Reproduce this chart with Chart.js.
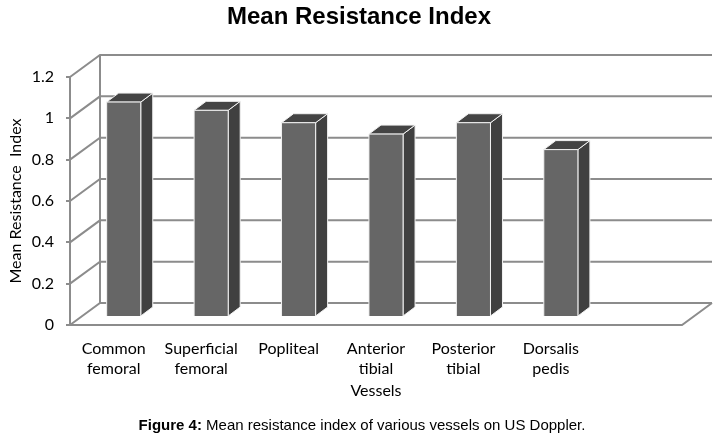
<!DOCTYPE html>
<html><head><meta charset="utf-8">
<script src="https://cdn.jsdelivr.net/npm/chart.js@4.4.1/dist/chart.umd.min.js"></script>
<style>html,body{margin:0;padding:0;background:#fff}#wrap{width:727px;height:436px}</style>
</head><body><div id="wrap"><canvas id="c"></canvas></div>
<script>
const vessels=[["Common","femoral"],["Superficial","femoral"],["Popliteal"],["Anterior","tibial"],["Posterior","tibial"],["Dorsalis","pedis"],""];
const meanRI=[1.04,1.0,0.94,0.885,0.94,0.81,null];
const yTicks=[0,0.2,0.4,0.6,0.8,1,1.2];

const DX=30,DY=-22;   // wall depth
const BX=10,BY=-8;    // bar front face sits a bit inside the box
const BDX=12,BDY=-9;  // bar depth
const GRID="#8c8c8c";
const LBL="Lato, 'Open Sans', sans-serif";

function poly(ctx,pts){
  ctx.beginPath();
  pts.forEach((p,i)=>i?ctx.lineTo(p[0],p[1]):ctx.moveTo(p[0],p[1]));
  ctx.closePath();
}

const box3d={
  id:"box3d",
  beforeDatasetsDraw(chart){
    const {ctx,chartArea:a,scales:{y}}=chart;
    ctx.save();
    ctx.strokeStyle=GRID;ctx.lineWidth=2;
    yTicks.forEach(t=>{
      const py=y.getPixelForValue(t);
      ctx.beginPath();
      ctx.moveTo(a.left,py);ctx.lineTo(a.left+DX,py+DY);ctx.lineTo(a.right+DX,py+DY);
      ctx.stroke();
    });
    const p0=y.getPixelForValue(0),pt=y.getPixelForValue(yTicks[yTicks.length-1]);
    ctx.beginPath();ctx.moveTo(a.left+DX,p0+DY);ctx.lineTo(a.left+DX,pt+DY);ctx.stroke();
    ctx.beginPath();ctx.moveTo(a.left,p0);ctx.lineTo(a.right,p0);ctx.lineTo(a.right+DX,p0+DY);ctx.stroke();
    ctx.restore();
  },
  afterDatasetsDraw(chart){
    const ctx=chart.ctx;
    const meta=chart.getDatasetMeta(0);
    ctx.save();
    ctx.lineWidth=1;ctx.strokeStyle="#f2f2f2";
    meta.data.forEach((bar,i)=>{
      if(meanRI[i]==null)return;
      const p=bar.getProps(["x","y","base","width"],true);
      const l=p.x-p.width/2+BX,r=p.x+p.width/2+BX,t=p.y+BY,b=p.base+BY;
      ctx.fillStyle="#404040";
      poly(ctx,[[r,t],[r+BDX,t+BDY],[r+BDX,b+BDY],[r,b]]);ctx.fill();ctx.stroke();
      ctx.fillStyle="#444444";
      poly(ctx,[[l,t],[l+BDX,t+BDY],[r+BDX,t+BDY],[r,t]]);ctx.fill();ctx.stroke();
      ctx.fillStyle="#666666";
      poly(ctx,[[l,b],[l,t],[r,t],[r,b]]);ctx.fill();
      ctx.beginPath();ctx.moveTo(l,b);ctx.lineTo(l,t);ctx.lineTo(r,t);ctx.lineTo(r,b);ctx.stroke();
    });
    ctx.restore();
  },
  afterDraw(chart){
    const ctx=chart.ctx;
    ctx.save();
    ctx.fillStyle="#000";
    ctx.textBaseline="alphabetic";
    ctx.textAlign="center";
    ctx.font="bold 24px 'Liberation Sans', Arial, sans-serif";
    ctx.fillText("Mean Resistance Index",359,24);
    // caption: bold lead + regular text
    const b="Figure 4:",rest=" Mean resistance index of various vessels on US Doppler.";
    const F="15px 'Liberation Sans', Arial, sans-serif";
    ctx.textAlign="left";
    ctx.font="bold "+F;
    const wb=ctx.measureText(b).width;
    ctx.font=F;
    const wr=ctx.measureText(rest).width;
    let x0=362-(wb+wr)/2;
    ctx.font="bold "+F;
    ctx.fillText(b,x0,430);
    ctx.font=F;
    ctx.fillText(rest,x0+wb,430);
    ctx.restore();
  }
};

new Chart(document.getElementById("c"),{
  type:"bar",
  data:{labels:vessels,datasets:[{data:meanRI,backgroundColor:"rgba(0,0,0,0)",borderWidth:0,barPercentage:0.39,categoryPercentage:1}]},
  options:{
    responsive:true,maintainAspectRatio:false,animation:false,
    layout:{padding:{left:0,right:45,top:77,bottom:36}},
    plugins:{legend:{display:false},tooltip:{enabled:false},title:{display:false}},
    scales:{
      x:{
        grid:{display:false,drawTicks:false},border:{display:false},
        ticks:{color:"#000",padding:14,maxRotation:0,autoSkip:false,font:{family:LBL,size:16,lineHeight:1.25}},
        title:{display:true,text:"Vessels",color:"#000",padding:{top:0,bottom:0},font:{family:LBL,size:16}},
        afterFit(s){s.height=75;}
      },
      y:{
        min:0,max:1.2,
        afterBuildTicks(s){s.ticks=yTicks.map(v=>({value:v}));},
        grid:{drawOnChartArea:false,tickLength:4,color:GRID,lineWidth:2},
        border:{display:true,color:GRID,width:2},
        ticks:{color:"#000",padding:12,font:{family:LBL,size:16},callback:v=>String(+v.toFixed(1))},
        title:{display:true,text:"Mean Resistance  Index",color:"#000",padding:{top:6,bottom:0},font:{family:LBL,size:16}},
        afterFit(s){s.width=70;}
      }
    }
  },
  plugins:[box3d]
});
</script>
</body></html>
